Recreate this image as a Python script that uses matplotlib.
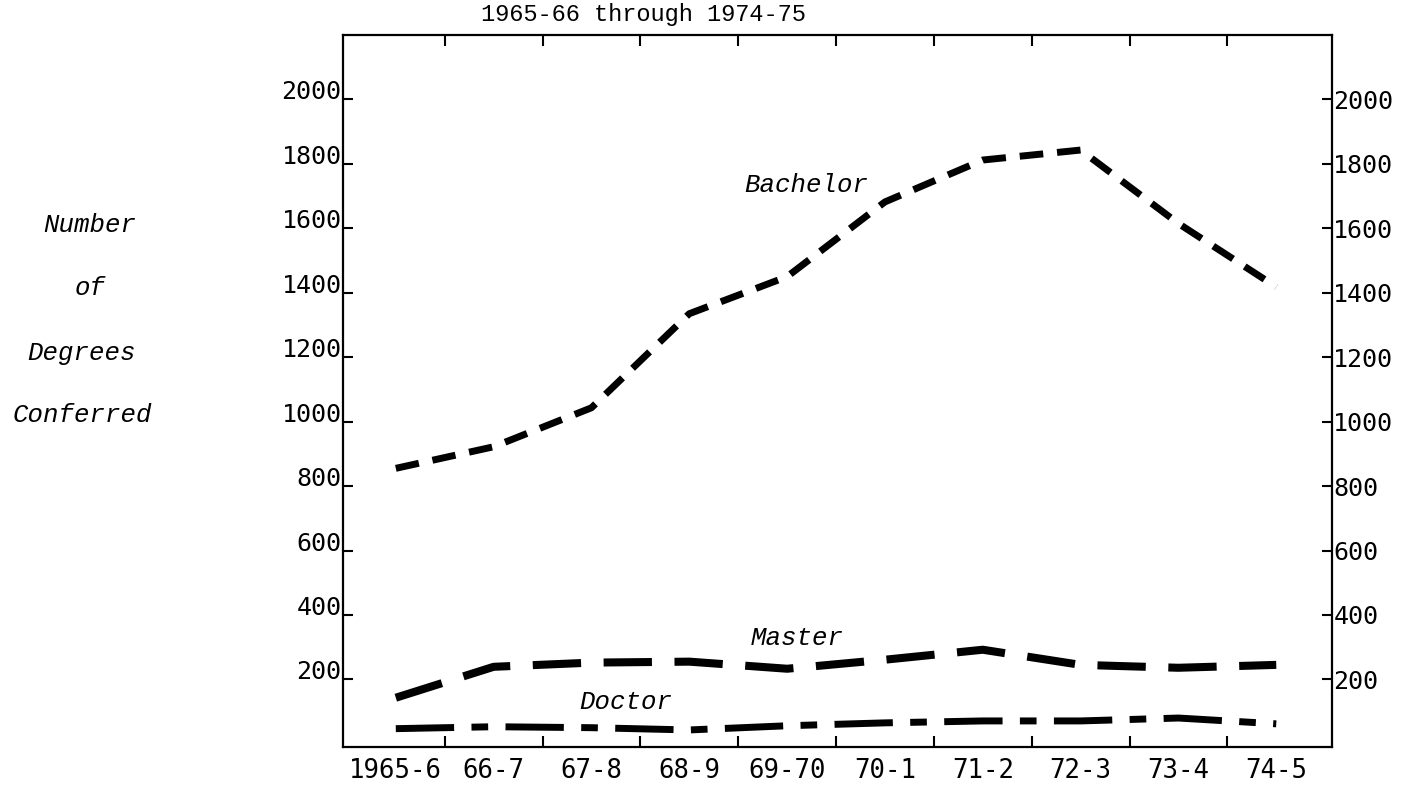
import matplotlib
matplotlib.use("Agg")
from matplotlib import pyplot as plt
import numpy as np

years = ["1965-6", "66-7", "67-8", "68-9", "69-70", "70-1", "71-2", "72-3", "73-4", "74-5"]
bachelor = [855, 922, 1043, 1335, 1450, 1682, 1812, 1843, 1615, 1418]
master = [143, 239, 252, 255, 233, 261, 292, 245, 236, 245]
doctor = [47, 53, 50, 43, 56, 65, 71, 71, 80, 62]
y_ticks = [200, 400, 600, 800, 1000, 1200, 1400, 1600, 1800, 2000]

mono = "DejaVu Sans Mono"
type_font = "Liberation Mono"

fig = plt.figure(figsize=(14.19, 7.89), dpi=100)
ax = fig.add_axes([0.2417, 0.0532, 0.697, 0.9024])

x = np.arange(len(years))
ax.plot(x, bachelor, color="black", lw=5.0, dashes=(3.4, 2.0))
ax.plot(x, master, color="black", lw=5.8, dashes=(6.0, 2.8))
ax.plot(x, doctor, color="black", lw=5.0, dashes=(8.4, 2.5, 2.4, 2.5))

ax.set_xlim(-0.54, 9.57)
ax.set_ylim(-10, 2200)

# ticks between categories, labels at categories
ax.set_xticks(x[:-1] + 0.5)
ax.set_xticklabels([])
ax.set_xticks(x, minor=True)
ax.set_xticklabels(years, minor=True, fontsize=18.5, family=mono)
ax.tick_params(axis="x", which="major", direction="in", length=8, width=1.5,
               top=True, bottom=True)
ax.tick_params(axis="x", which="minor", length=0, pad=8)

ax.set_yticks(y_ticks)
ax.tick_params(axis="y", which="major", direction="in", length=7, width=1.5,
               left=True, right=True, labelleft=True, labelright=True,
               labelsize=18, pad=1)
for t in ax.yaxis.get_major_ticks():
    t.label1.set_family(mono)
    t.label2.set_family(mono)
    t.label1.set_verticalalignment("baseline")

for s in ax.spines.values():
    s.set_linewidth(1.6)

ax.text(4.2, 1735, "Bachelor", fontsize=18.5, family=type_font, style="italic",
        ha="center", va="center")
ax.text(4.1, 329, "Master", fontsize=18.5, family=type_font, style="italic",
        ha="center", va="center")
ax.text(2.35, 130, "Doctor", fontsize=18.5, family=type_font, style="italic",
        ha="center", va="center")

fig.text(643 / 1419, 1 - 14 / 789, "1965-66 through 1974-75", fontsize=17,
         family=type_font, ha="center", va="center")

for word, px, py in [("Number", 90, 225), ("of", 90, 288),
                     ("Degrees", 82, 353), ("Conferred", 82, 415)]:
    fig.text(px / 1419, 1 - py / 789, word, fontsize=18.5, family=type_font,
             style="italic", ha="center", va="center")

fig.savefig("out.png", dpi=100)
